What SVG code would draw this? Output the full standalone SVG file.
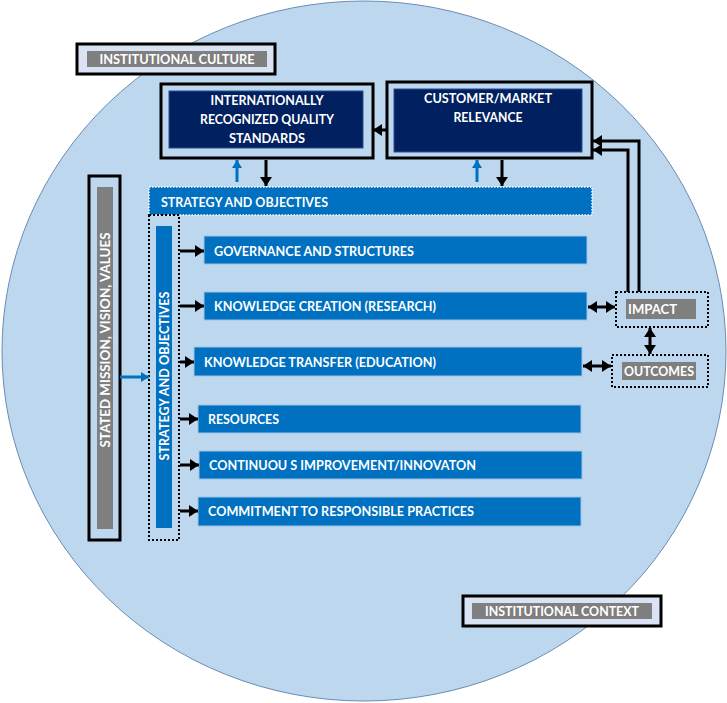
<svg xmlns="http://www.w3.org/2000/svg" width="727" height="703" viewBox="0 0 727 703">
<style>
  text { font-family: Lato, "Open Sans", "Liberation Sans", sans-serif; font-weight: bold; fill: #ffffff; font-size: 12.5px; }
  .outer { fill: none; stroke: #000; stroke-width: 3; }
  .lbl { fill: #DAE3F3; stroke: #000; stroke-width: 3; }
  .gray { fill: #7F7F7F; }
  .navy { fill: #002060; stroke: #2F4F8F; stroke-width: 1; }
  .bar { fill: #0070C0; stroke: #9DC3E6; stroke-width: 1; }
  .dotbox { fill: none; stroke: #000; stroke-width: 2; stroke-dasharray: 2 2; }
  .conn { fill: none; stroke: #000; stroke-width: 3; }
  .blue { fill: none; stroke: #0070C0; stroke-width: 3; }
  .mid { text-anchor: middle; }
</style>
<defs>
  <marker id="ah" markerUnits="userSpaceOnUse" markerWidth="10" markerHeight="12" refX="9" refY="6" orient="auto-start-reverse">
    <path d="M0,0 L9,6 L0,12 z" fill="#000"/>
  </marker>
  <marker id="ahb" markerUnits="userSpaceOnUse" markerWidth="10" markerHeight="10" refX="8" refY="5" orient="auto-start-reverse">
    <path d="M0,0 L8,5 L0,10 z" fill="#0070C0"/>
  </marker>
</defs>

<ellipse cx="364" cy="351" rx="362" ry="350" fill="#BDD7EE" stroke="#6A8CB3" stroke-width="1"/>

<g id="institutional-culture">
  <rect class="lbl" x="77" y="44" width="198" height="30"/>
  <rect class="gray" x="87" y="51" width="180" height="16"/>
  <text class="mid" x="177" y="63.5" textLength="155" lengthAdjust="spacingAndGlyphs">INSTITUTIONAL CULTURE</text>
</g>

<g id="quality-standards">
  <rect class="outer" x="161" y="84" width="212" height="74" fill="#BDD7EE"/>
  <rect class="navy" x="169" y="91" width="194" height="57"/>
  <text class="mid" x="267" y="104.5" textLength="113" lengthAdjust="spacingAndGlyphs">INTERNATIONALLY</text>
  <text class="mid" x="267" y="123.5" textLength="134" lengthAdjust="spacingAndGlyphs">RECOGNIZED QUALITY</text>
  <text class="mid" x="267" y="142.5" textLength="76" lengthAdjust="spacingAndGlyphs">STANDARDS</text>
</g>

<g id="customer-relevance">
  <rect class="outer" x="387" y="82" width="205" height="76"/>
  <rect class="navy" x="394" y="89" width="188" height="63"/>
  <text class="mid" x="488" y="102.5" textLength="128" lengthAdjust="spacingAndGlyphs">CUSTOMER/MARKET</text>
  <text class="mid" x="488" y="121.5" textLength="69" lengthAdjust="spacingAndGlyphs">RELEVANCE</text>
</g>

<g id="strategy-horizontal">
  <rect x="149" y="187" width="443" height="28" fill="#0070C0" stroke="#ffffff" stroke-width="1.5" stroke-dasharray="1.5 1.5"/>
  <text x="161" y="206.5" textLength="167" lengthAdjust="spacingAndGlyphs">STRATEGY AND OBJECTIVES</text>
</g>

<g id="strategy-vertical">
  <rect class="dotbox" x="149" y="215" width="30" height="325"/>
  <rect fill="#0070C0" x="156" y="226" width="16" height="302"/>
  <text class="mid" transform="translate(168.5,376) rotate(-90)" textLength="169" lengthAdjust="spacingAndGlyphs">STRATEGY AND OBJECTIVES</text>
</g>

<g id="stated-mission">
  <rect class="outer" x="89" y="176" width="31" height="364"/>
  <rect class="gray" x="97" y="187" width="16" height="342"/>
  <text class="mid" transform="translate(109.5,340) rotate(-90)" textLength="215" lengthAdjust="spacingAndGlyphs">STATED MISSION, VISION, VALUES</text>
</g>

<g id="governance">
  <rect class="bar" x="204" y="236" width="383" height="28"/>
  <text x="214" y="255.5" textLength="200" lengthAdjust="spacingAndGlyphs">GOVERNANCE AND STRUCTURES</text>
</g>
<g id="knowledge-creation">
  <rect class="bar" x="204" y="292" width="383" height="28"/>
  <text x="214" y="310.5" textLength="222" lengthAdjust="spacingAndGlyphs">KNOWLEDGE CREATION (RESEARCH)</text>
</g>
<g id="knowledge-transfer">
  <rect class="bar" x="194" y="347" width="388" height="29"/>
  <text x="204" y="366.5" textLength="232" lengthAdjust="spacingAndGlyphs">KNOWLEDGE TRANSFER (EDUCATION)</text>
</g>
<g id="resources">
  <rect class="bar" x="198" y="405" width="383" height="28"/>
  <text x="208" y="423.5" textLength="71" lengthAdjust="spacingAndGlyphs">RESOURCES</text>
</g>
<g id="continuous-improvement">
  <rect class="bar" x="199" y="451" width="383" height="28"/>
  <text x="209" y="469.5" textLength="267" lengthAdjust="spacingAndGlyphs">CONTINUOU S IMPROVEMENT/INNOVATON</text>
</g>
<g id="commitment">
  <rect class="bar" x="198" y="497" width="383" height="29"/>
  <text x="208" y="515.5" textLength="266" lengthAdjust="spacingAndGlyphs">COMMITMENT TO RESPONSIBLE PRACTICES</text>
</g>

<g id="impact">
  <rect class="dotbox" x="616" y="292" width="92" height="35"/>
  <rect class="gray" x="626" y="299" width="70" height="20"/>
  <text x="628" y="313.5" textLength="49" lengthAdjust="spacingAndGlyphs">IMPACT</text>
</g>
<g id="outcomes">
  <rect class="dotbox" x="612" y="355" width="96" height="32"/>
  <rect class="gray" x="622" y="362" width="74" height="18"/>
  <text x="624" y="375.5" textLength="70" lengthAdjust="spacingAndGlyphs">OUTCOMES</text>
</g>

<g id="institutional-context">
  <rect class="lbl" x="463" y="596" width="198" height="30"/>
  <rect class="gray" x="472" y="603" width="180" height="16"/>
  <text class="mid" x="562" y="615.5" textLength="154" lengthAdjust="spacingAndGlyphs">INSTITUTIONAL CONTEXT</text>
</g>

<g id="connectors">
  <line class="conn" x1="387" y1="130" x2="373" y2="130" marker-end="url(#ah)"/>
  <line class="blue" x1="237" y1="182" x2="237" y2="160" marker-end="url(#ahb)"/>
  <line class="blue" x1="477" y1="182" x2="477" y2="160" marker-end="url(#ahb)"/>
  <line class="conn" x1="266" y1="160" x2="266" y2="186" marker-end="url(#ah)"/>
  <line class="conn" x1="502" y1="160" x2="502" y2="186" marker-end="url(#ah)"/>
  <line class="blue" x1="120" y1="377" x2="149" y2="377" marker-end="url(#ahb)"/>
  <line class="conn" x1="180" y1="251" x2="204" y2="251" marker-end="url(#ah)"/>
  <line class="conn" x1="180" y1="306" x2="204" y2="306" marker-end="url(#ah)"/>
  <line class="conn" x1="180" y1="362" x2="194" y2="362" marker-end="url(#ah)"/>
  <line class="conn" x1="180" y1="419" x2="198" y2="419" marker-end="url(#ah)"/>
  <line class="conn" x1="180" y1="465" x2="199" y2="465" marker-end="url(#ah)"/>
  <line class="conn" x1="180" y1="511" x2="198" y2="511" marker-end="url(#ah)"/>
  <line class="conn" x1="588" y1="307" x2="615" y2="307" marker-start="url(#ah)" marker-end="url(#ah)"/>
  <line class="conn" x1="583" y1="366" x2="611" y2="366" marker-start="url(#ah)" marker-end="url(#ah)"/>
  <line class="conn" x1="650" y1="328" x2="650" y2="354" marker-start="url(#ah)" marker-end="url(#ah)"/>
  <polyline class="conn" points="639,292 639,141 593,141" marker-end="url(#ah)"/>
  <polyline class="conn" points="628,292 628,150 593,150" marker-end="url(#ah)"/>
</g>
</svg>
